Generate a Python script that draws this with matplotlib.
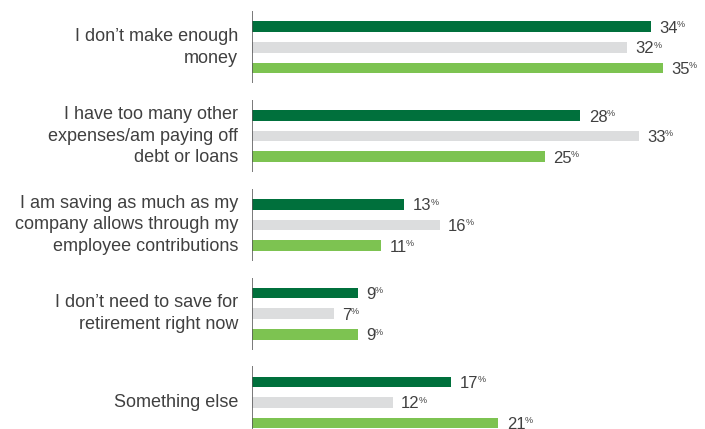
import matplotlib
matplotlib.use("Agg")
import matplotlib.pyplot as plt

plt.rcParams['font.family'] = ['Liberation Sans', 'DejaVu Sans']

# survey answers, top to bottom
categories = [
    "I don\u2019t make enough\nmoney",
    "I have too many other\nexpenses/am paying off\ndebt or loans",
    "I am saving as much as my\ncompany allows through my\nemployee contributions",
    "I don\u2019t need to save for\nretirement right now",
    "Something else",
]
# three series per answer (dark green, grey, light green)
series_a = [34, 28, 13, 9, 17]
series_b = [32, 33, 16, 7, 12]
series_c = [35, 25, 11, 9, 21]

colors = ["#00703c", "#dcddde", "#7dc351"]
text_color = "#404040"

fig = plt.figure(figsize=(7.05, 4.29), dpi=100)
# axis in pixel-like units on y, percent on x
ax = fig.add_axes([252 / 705, 0, 453 / 705, 1])
ax.set_xlim(0, 453 / 11.73)
ax.set_ylim(429, 0)
ax.axis('off')

group_gap = 88.8
bar_gap = 20.6
first = 26.7
bar_h = 10.7

for i, cat in enumerate(categories):
    top = first + group_gap * i
    ys = [top, top + bar_gap, top + 2 * bar_gap]
    vals = [series_a[i], series_b[i], series_c[i]]
    ax.barh(ys, vals, height=bar_h, color=colors)
    ax.vlines(0, top - 15.5, ys[2] + 15.5, color="#555555", lw=1.1)
    ax.annotate(cat, xy=(0, ys[1]), xytext=(-10, 0), textcoords='offset points',
                ha='right', va='center', multialignment='right',
                fontsize=13, color=text_color, linespacing=1.36)
    for y, v in zip(ys, vals):
        t = ax.annotate(str(v), xy=(v, y), xytext=(6, 0), textcoords='offset points',
                        ha='left', va='center_baseline', fontsize=12, color=text_color)
        ax.annotate('%', xy=(1, 1), xycoords=t, xytext=(-0.8, 0.5),
                    textcoords='offset points', ha='left', va='top',
                    fontsize=6.5, color=text_color)

fig.savefig("out.png", dpi=100)
